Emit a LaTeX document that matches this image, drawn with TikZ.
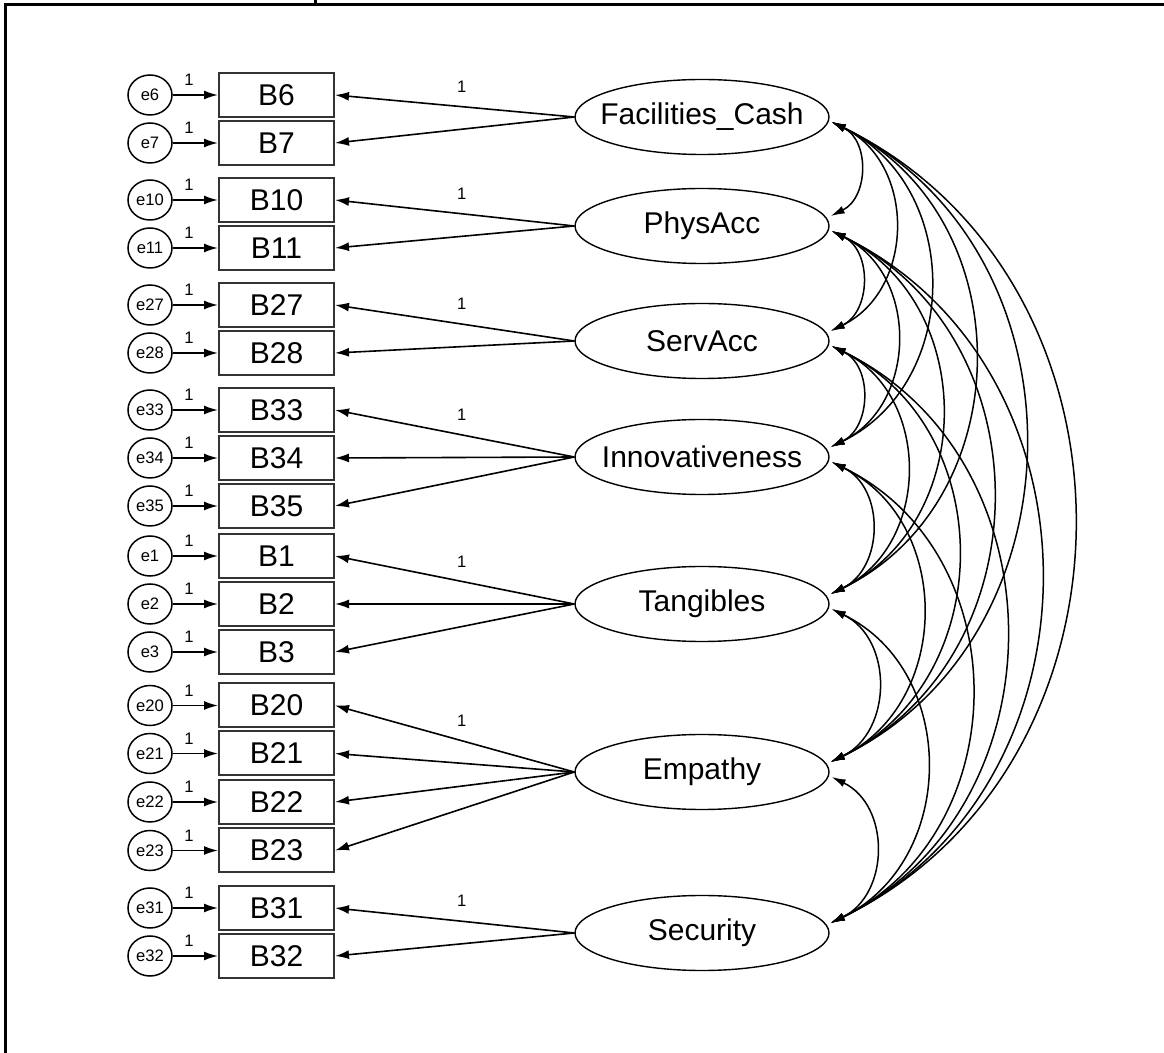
\documentclass[tikz,border=0pt]{standalone}
\usepackage{fontspec}
\setmainfont{Liberation Sans}
\usetikzlibrary{arrows.meta,shapes.geometric}
\newcommand{\latname}[1]{\makebox[0pt][c]{#1}}
\begin{document}
\begin{tikzpicture}[x=0.5pt,y=0.5pt,
  big/.style={font=\fontsize{15}{18}\selectfont},
  small/.style={font=\fontsize{8.3}{9}\selectfont},
  obs/.style={big, draw=black!80, line width=1pt, minimum width=57.5pt, minimum height=22pt, inner sep=0pt},
  lat/.style={big, ellipse, draw, line width=0.7pt, minimum width=127pt, minimum height=37.5pt, inner sep=0pt},
  err/.style={small, ellipse, draw, line width=0.75pt, minimum width=22pt, minimum height=20pt, inner sep=0pt},
  one/.style={small, inner sep=0pt},
  reg/.style={line width=0.8pt, -{Latex[length=7pt,width=4.5pt]}},
  cov/.style={line width=0.75pt, {Latex[length=7pt,width=4pt]}-{Latex[length=7pt,width=4pt]}, out=-26, in=26, looseness=1.15},
]
\useasboundingbox (0,0) rectangle (1164,-1053);
\fill[white] (0,0) rectangle (1164,-1053);

% frame
\draw[line width=1.5pt] (5.5,-1053) -- (5.5,-4.5) -- (1164,-4.5);
\fill (314,0) rectangle (317,-3);

% observed variables with their error terms
\foreach \n/\y in {6/95, 7/143, 10/200, 11/248, 27/305, 28/353, 33/410, 34/458, 35/506,
                   1/556, 2/604, 3/652, 20/705.5, 21/753.5, 22/802, 23/850.5, 31/908, 32/956} {
  \node[err] (e\n) at (150,-\y) {e\n};
  \node[obs] (b\n) at (276.5,-\y) {B\n};
  \draw[reg] (e\n) -- node[one, pos=0.36, yshift=7.5pt] {1} (b\n);
}

% latent variables
\node[lat] (fac)  at (702,-117) {\latname{Facilities\_Cash}};
\node[lat] (phys) at (702,-226) {\latname{PhysAcc}};
\node[lat] (serv) at (702,-341) {\latname{ServAcc}};
\node[lat] (inno) at (702,-457) {\latname{Innovativeness}};
\node[lat] (tang) at (702,-604) {\latname{Tangibles}};
\node[lat] (emp)  at (702,-772) {\latname{Empathy}};
\node[lat] (sec)  at (702,-933) {\latname{Security}};

% factor loadings
\draw[reg] (fac.west) -- node[one, pos=0.47, yshift=10pt] {1} (b6.east);
\draw[reg] (fac.west) -- (b7.east);
\draw[reg] (phys.west) -- node[one, pos=0.47, yshift=10pt] {1} (b10.east);
\draw[reg] (phys.west) -- (b11.east);
\draw[reg] (serv.west) -- node[one, pos=0.47, yshift=10pt] {1} (b27.east);
\draw[reg] (serv.west) -- (b28.east);
\draw[reg] (inno.west) -- node[one, pos=0.47, yshift=10pt] {1} (b33.east);
\draw[reg] (inno.west) -- (b34.east);
\draw[reg] (inno.west) -- (b35.east);
\draw[reg] (tang.west) -- node[one, pos=0.47, yshift=10pt] {1} (b1.east);
\draw[reg] (tang.west) -- (b2.east);
\draw[reg] (tang.west) -- (b3.east);
\draw[reg] (emp.west) -- node[one, pos=0.47, yshift=10pt] {1} (b20.east);
\draw[reg] (emp.west) -- (b21.east);
\draw[reg] (emp.west) -- (b22.east);
\draw[reg] (emp.west) -- (b23.east);
\draw[reg] (sec.west) -- node[one, pos=0.47, yshift=10pt] {1} (b31.east);
\draw[reg] (sec.west) -- (b32.east);

% attachment points of the covariance arcs
\foreach \l in {fac,phys,serv,inno,tang,emp,sec} {
  \coordinate (\l-d) at ([xshift=1pt,yshift=-2.5pt]\l.east);
  \coordinate (\l-u) at ([xshift=0.5pt,yshift=5pt]\l.east);
}

% covariances
\draw[cov] (fac-d) to (phys-u);
\draw[cov] (fac-d) to (serv-u);
\draw[cov] (fac-d) to (inno-u);
\draw[cov] (fac-d) to (tang-u);
\draw[cov] (fac-d) to (emp-u);
\draw[cov] (fac-d) to (sec-u);
\draw[cov] (phys-d) to (serv-u);
\draw[cov] (phys-d) to (inno-u);
\draw[cov] (phys-d) to (tang-u);
\draw[cov] (phys-d) to (emp-u);
\draw[cov] (phys-d) to (sec-u);
\draw[cov] (serv-d) to (inno-u);
\draw[cov] (serv-d) to (tang-u);
\draw[cov] (serv-d) to (emp-u);
\draw[cov] (serv-d) to (sec-u);
\draw[cov] (inno-d) to (tang-u);
\draw[cov] (inno-d) to (emp-u);
\draw[cov] (inno-d) to (sec-u);
\draw[cov] (tang-d) to (emp-u);
\draw[cov] (tang-d) to (sec-u);
\draw[cov] (emp-d) to (sec-u);
\end{tikzpicture}
\end{document}
